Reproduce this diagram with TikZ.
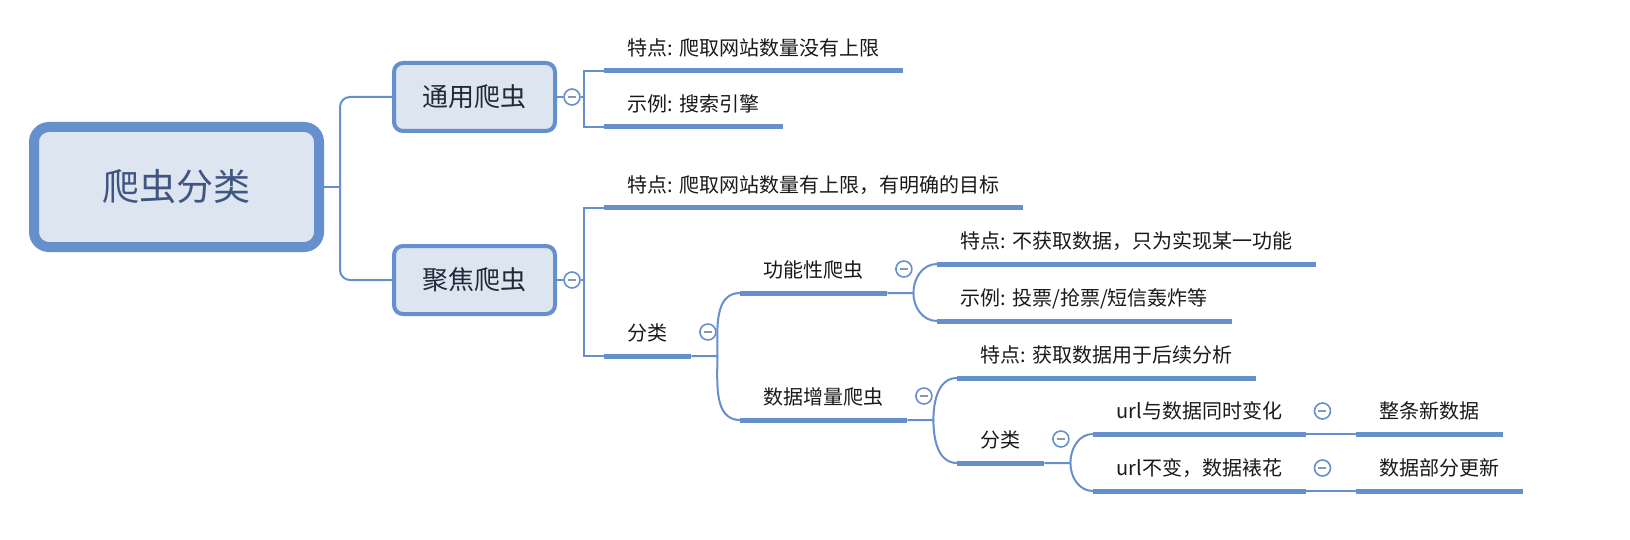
\documentclass[tikz,border=0pt]{standalone}
\usepackage{fontspec}
\setmainfont{Noto Sans CJK SC}
\usepackage{color}
\definecolor{myblue}{RGB}{102,143,206}
\definecolor{mylight}{RGB}{221,229,241}
\definecolor{myslate}{RGB}{62,86,128}
\definecolor{myink}{RGB}{34,42,58}
\definecolor{mygrey}{RGB}{140,150,172}
\usepackage{tikz}
\usetikzlibrary{calc,positioning}
\tikzstyle{rootbox}=[draw=myblue,fill=mylight,rounded corners=15pt,line width=10pt,minimum width=285pt,minimum height=120pt,text=myslate,font=\fontsize{37}{40}\selectfont]
\tikzstyle{mainbox}=[draw=myblue,fill=mylight,rounded corners=9pt,line width=4pt,minimum width=161pt,minimum height=68pt,text=myink,font=\fontsize{26}{30}\selectfont]
\tikzstyle{topic}=[anchor=south west,inner xsep=23.5pt,inner ysep=0pt,text height=17pt,text depth=15pt,text=black!90,font=\fontsize{20}{24}\selectfont,append after command={(\tikzlastnode.south west) edge[draw=myblue,line width=5pt] (\tikzlastnode.south east)}]
\tikzstyle{fold}=[draw=myblue,fill=white,circle,line width=1.6pt,minimum size=16pt,inner sep=0pt,path picture={\draw[mygrey,line width=1.6pt] ([xshift=-4pt]path picture bounding box.center) -- ([xshift=4pt]path picture bounding box.center);}]
\tikzstyle{conn}=[draw=myblue,line width=2pt]

\begin{document}
\begin{tikzpicture}[x=1pt,y=-1pt]
\useasboundingbox (0,0) rectangle (1630,540);
\draw (176.5,187) node [rootbox] (root) {爬虫分类};
\draw (474.5,97) node [mainbox] (gen) {通用爬虫};
\draw (474.5,280) node [mainbox] (foc) {聚焦爬虫};
\draw (572,97) node [fold] (cgen) {};
\draw (572,280) node [fold] (cfoc) {};
% general crawler
\draw (604,71) node [topic] (gf) {特点: 爬取网站数量没有上限};
\draw (604,127) node [topic] (ge) {示例: 搜索引擎};
% focused crawler
\draw (604,208) node [topic] (ff) {特点: 爬取网站数量有上限，有明确的目标};
\draw (604,356) node [topic] (fc) {分类};
\draw (740,293) node [topic] (fn) {功能性爬虫};
\draw (937,264) node [topic] (fnf) {特点: 不获取数据，只为实现某一功能};
\draw (937,321) node [topic] (fne) {示例: 投票/抢票/短信轰炸等};
\draw (740,420) node [topic] (fd) {数据增量爬虫};
\draw (957,378) node [topic] (fdf) {特点: 获取数据用于后续分析};
\draw (957,463) node [topic] (fdc) {分类};
\draw (1093,434) node [topic] (u1) {url与数据同时变化};
\draw (1093,491) node [topic] (u2) {url不变，数据裱花};
\draw (1356,434) node [topic] (n1) {整条新数据};
\draw (1356,491) node [topic] (n2) {数据部分更新};
% fold markers
\draw ([xshift=16.5pt,yshift=24pt]fc.south east) node [fold] (cfc) {};
\draw ([xshift=16.5pt,yshift=24pt]fn.south east) node [fold] (cfn) {};
\draw ([xshift=16.5pt,yshift=24pt]fd.south east) node [fold] (cfd) {};
\draw ([xshift=16.5pt,yshift=24pt]fdc.south east) node [fold] (cfdc) {};
\draw ([xshift=16.5pt,yshift=23pt]u1.south east) node [fold] (cu1) {};
\draw ([xshift=16.5pt,yshift=23pt]u2.south east) node [fold] (cu2) {};
% junctions
\coordinate (jr) at (340,187);
\coordinate (jg) at (584,97);
\coordinate (jf) at (584,280);
\coordinate (j1) at ([xshift=26pt]fc.south east);
\coordinate (j2) at ([xshift=26pt]fn.south east);
\coordinate (j3) at ([xshift=26pt]fd.south east);
\coordinate (j4) at ([xshift=26pt]fdc.south east);
% connectors
\draw[conn] (root.east) -- (jr);
\draw[conn,rounded corners=10pt] (jr) |- (gen.west);
\draw[conn,rounded corners=10pt] (jr) |- (foc.west);
\draw[conn] (gen.east) -- (cgen.west);
\draw[conn] (cgen.east) -- (jg);
\draw[conn] (jg) |- (gf.south west);
\draw[conn] (jg) |- (ge.south west);
\draw[conn] (foc.east) -- (cfoc.west);
\draw[conn] (cfoc.east) -- (jf);
\draw[conn] (jf) |- (ff.south west);
\draw[conn] (jf) |- (fc.south west);
\draw[conn] (fc.south east) -- (j1) to[out=90,in=180] (fn.south west);
\draw[conn] (j1) to[out=-90,in=180] (fd.south west);
\draw[conn] (fn.south east) -- (j2) to[out=90,in=180] (fnf.south west);
\draw[conn] (j2) to[out=-90,in=180] (fne.south west);
\draw[conn] (fd.south east) -- (j3) to[out=90,in=180] (fdf.south west);
\draw[conn] (j3) to[out=-90,in=180] (fdc.south west);
\draw[conn] (fdc.south east) -- (j4) to[out=90,in=180] (u1.south west);
\draw[conn] (j4) to[out=-90,in=180] (u2.south west);
\draw[conn] (u1.south east) -- (n1.south west);
\draw[conn] (u2.south east) -- (n2.south west);
\end{tikzpicture}
\end{document}
